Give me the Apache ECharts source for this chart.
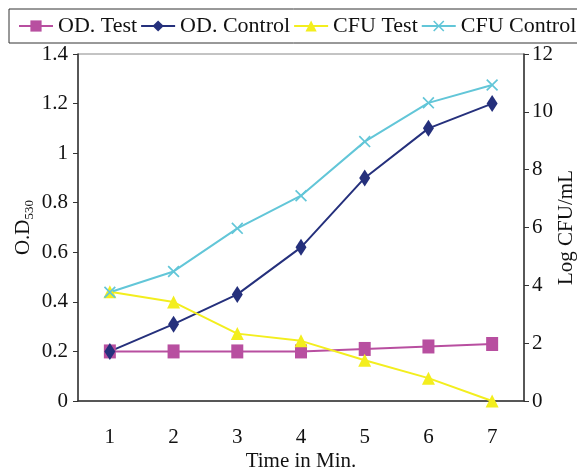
<!DOCTYPE html>
<html>
<head>
<meta charset="utf-8">
<script src="https://cdn.jsdelivr.net/npm/echarts@6/dist/echarts.min.js"></script>
<style>
  html, body { margin: 0; padding: 0; background: #fff; }
  #chart-container { width: 577px; height: 472px; }
</style>
</head>
<body>
<div id="chart-container"></div>
<script>
const times = ['1', '2', '3', '4', '5', '6', '7'];
const odTest = [0.2, 0.2, 0.2, 0.2, 0.21, 0.22, 0.23];
const odControl = [0.2, 0.31, 0.43, 0.62, 0.9, 1.1, 1.2];
const cfuTest = [3.78, 3.42, 2.33, 2.08, 1.41, 0.79, 0];
const cfuControl = [3.76, 4.48, 5.97, 7.1, 8.97, 10.31, 10.93];

const font = 'Liberation Serif';
const axisColor = '#333';
const xMark = 'path://M0,1L1,0L5,4L9,0L10,1L6,5L10,9L9,10L5,6L1,10L0,9L4,5Z';

const myChart = echarts.init(document.getElementById('chart-container'));

const lineSeries = (name, data, color, symbol, size, axis) => ({
	name: name,
	type: 'line',
	yAxisIndex: axis,
	data: data,
	symbol: symbol,
	symbolSize: size,
	showAllSymbol: true,
	lineStyle: { width: 2, color: color },
	itemStyle: { color: color },
	animation: false
});

var option = {
	textStyle: { fontFamily: font, color: '#111' },
	legend: {
		left: 9,
		top: 9,
		width: 640,
		padding: [6, 40, 6, 9],
		borderColor: '#333',
		borderWidth: 1,
		itemWidth: 34,
		itemHeight: 14,
		itemGap: 3,
		textStyle: { fontFamily: font, fontSize: 22, color: '#111' },
		data: ['OD. Test', 'OD. Control', 'CFU Test', 'CFU Control']
	},
	grid: {
		left: 78,
		right: 53,
		top: 54,
		bottom: 71,
		outerBoundsMode: 'none',
		containLabel: false,
		show: true,
		borderColor: '#888',
		borderWidth: 1
	},
	xAxis: {
		type: 'category',
		data: times,
		boundaryGap: true,
		name: 'Time in Min.',
		nameLocation: 'middle',
		nameGap: 50,
		nameMoveOverlap: false,
		nameTextStyle: { fontFamily: font, fontSize: 21, color: '#111' },
		axisLine: { lineStyle: { color: axisColor, width: 1.5 } },
		axisTick: { length: 5, lineStyle: { color: axisColor } },
		axisLabel: { margin: 26, fontFamily: font, fontSize: 21, color: '#111' },
		splitLine: { show: false }
	},
	yAxis: [{
		type: 'value',
		min: 0,
		max: 1.4,
		interval: 0.2,
		name: 'O.D{sub|530}',
		nameLocation: 'middle',
		nameRotate: 90,
		nameGap: 42,
		nameMoveOverlap: false,
		nameTextStyle: {
			fontFamily: font, fontSize: 21, color: '#111',
			rich: {
				sub: { fontFamily: font, fontSize: 13, color: '#111', padding: [12, 0, 0, 0] }
			}
		},
		axisLine: { show: true, lineStyle: { color: axisColor, width: 1.5 } },
		axisTick: { show: true, length: 5, lineStyle: { color: axisColor } },
		axisLabel: { margin: 10, fontFamily: font, fontSize: 21, color: '#111' },
		splitLine: { show: false }
	}, {
		type: 'value',
		min: 0,
		max: 12,
		interval: 2,
		position: 'right',
		name: 'Log CFU/mL',
		nameLocation: 'middle',
		nameRotate: 90,
		nameGap: 32,
		nameMoveOverlap: false,
		nameTextStyle: { fontFamily: font, fontSize: 21, color: '#111' },
		axisLine: { show: true, lineStyle: { color: axisColor, width: 1.5 } },
		axisTick: { show: true, length: 5, lineStyle: { color: axisColor } },
		axisLabel: { margin: 8, fontFamily: font, fontSize: 21, color: '#111' },
		splitLine: { show: false }
	}],
	series: [
		lineSeries('OD. Test', odTest, '#B84FA0', 'rect', [12, 14], 0),
		lineSeries('OD. Control', odControl, '#25307C', 'diamond', [11, 17], 0),
		lineSeries('CFU Test', cfuTest, '#F3EE1E', 'triangle', [13, 13], 1),
		lineSeries('CFU Control', cfuControl, '#62C6D8', xMark, [12, 12], 1)
	]
};

myChart.setOption(option);
</script>
</body>
</html>
